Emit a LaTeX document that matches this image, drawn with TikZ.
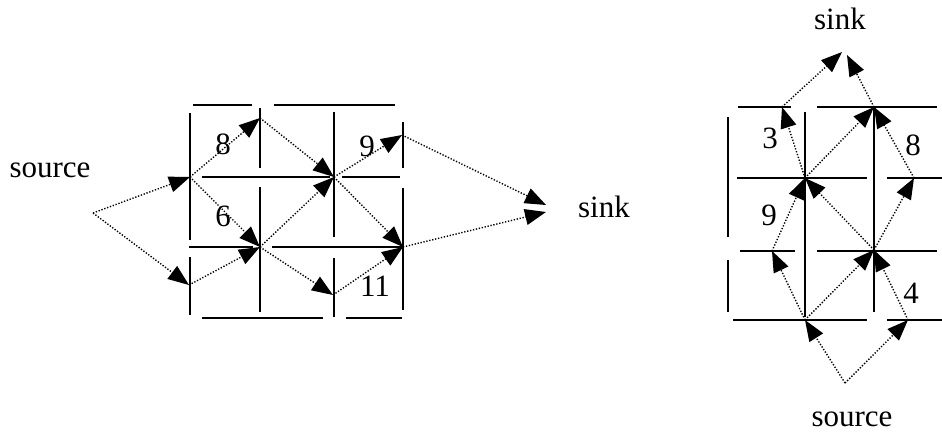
\documentclass[tikz,border=0pt]{standalone}
\usepackage{fontspec}
\setmainfont{Liberation Serif}
\usetikzlibrary{arrows.meta}
\begin{document}
\begin{tikzpicture}[x=1pt,y=-1pt,
 wall/.style={line width=1.4pt},
 flow/.style={line width=1.4pt, dash pattern=on 1.3pt off 1.7pt, -{Triangle[length=21pt,width=16pt]}},
 lbl/.style={anchor=base, inner sep=0pt, font=\fontsize{31}{37}\selectfont}]
\useasboundingbox (0,0) rectangle (942,431);
% ---------- left grid ----------
\draw[wall] (193,105)--(252,105) (274,105)--(395,105)
 (190,113)--(190,240) (190,257)--(190,315)
 (260,108)--(260,168) (260,187)--(260,312)
 (334,112)--(334,237) (334,258)--(334,317)
 (403,122)--(403,168) (403,188)--(403,310)
 (202,177)--(330,177) (342,177)--(400,177)
 (189,247)--(253,247) (272,247)--(402,247)
 (202,318)--(323,318) (346,318)--(402,318);
\coordinate (S) at (93,213);
\coordinate (A) at (190,177);
\coordinate (B) at (260,118);
\coordinate (C) at (334,177);
\coordinate (D) at (402,135);
\coordinate (E) at (260,247);
\coordinate (F) at (189,285);
\coordinate (G) at (333,295);
\coordinate (H) at (403,247);
\coordinate (T1) at (546,205);
\coordinate (T2) at (546,212);
\draw[flow] (S)--(A);
\draw[flow] (S)--(F);
\draw[flow] (A)--(B);
\draw[flow] (A)--(E);
\draw[flow] (B)--(C);
\draw[flow] (E)--(C);
\draw[flow] (F)--(E);
\draw[flow] (E)--(G);
\draw[flow] (C)--(D);
\draw[flow] (C)--(H);
\draw[flow] (G)--(H);
\draw[flow] (D)--(T1);
\draw[flow] (H)--(T2);
\node[lbl] (lsource) at (50,177) {source};
\node[lbl] (lsink) at (604,217) {sink};
\node[lbl] (l8) at (223,154) {8};
\node[lbl] (l9) at (367,156) {9};
\node[lbl] (l6) at (223,226) {6};
\node[lbl] (l11) at (375,296) {11};
% ---------- right grid ----------
\draw[wall] (738,107)--(791,107) (817,107)--(937,107)
 (737,178)--(867,178) (887,178)--(942,178)
 (740,251)--(795,251) (817,251)--(937,251)
 (733,320)--(867,320) (887,320)--(942,320)
 (728,117)--(728,237) (728,260)--(728,312)
 (805,112)--(805,317) (874,108)--(874,312);
\coordinate (RS) at (845,383);
\coordinate (P1) at (805,320);
\coordinate (P2) at (908,320);
\coordinate (P3) at (772,251);
\coordinate (P4) at (874,250);
\coordinate (P5) at (805,178);
\coordinate (P6) at (914,178);
\coordinate (P7) at (782,107);
\coordinate (P8) at (874,107);
\coordinate (U1) at (842,52);
\coordinate (U2) at (847,55);
\draw[flow] (RS)--(P1);
\draw[flow] (RS)--(P2);
\draw[flow] (P1)--(P3);
\draw[flow] (P1)--(P4);
\draw[flow] (P2)--(P4);
\draw[flow] (P3)--(P5);
\draw[flow] (P4)--(P5);
\draw[flow] (P4)--(P6);
\draw[flow] (P5)--(P7);
\draw[flow] (P5)--(P8);
\draw[flow] (P6)--(P8);
\draw[flow] (P7)--(U1);
\draw[flow] (P8)--(U2);
\node[lbl] (rsink) at (840,29) {sink};
\node[lbl] (rsource) at (852,426) {source};
\node[lbl] (r3) at (770,148) {3};
\node[lbl] (r9) at (769,225) {9};
\node[lbl] (r8) at (913,155) {8};
\node[lbl] (r4) at (911,303) {4};
\end{tikzpicture}
\end{document}
